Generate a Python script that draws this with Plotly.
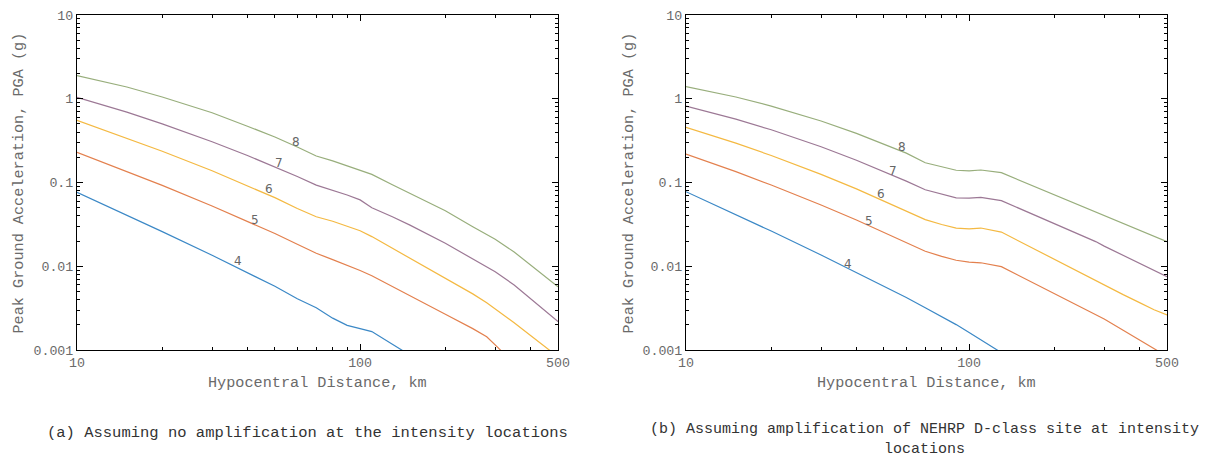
import plotly.graph_objects as go
from plotly.subplots import make_subplots
import math

# ---------------- data ----------------
distance_km = [10, 15, 20, 30, 40, 50, 60, 70, 80, 90, 100, 110, 130, 150,
               200, 250, 280, 300, 350, 400, 450, 500]
magnitudes = ["4", "5", "6", "7", "8"]

# (a) no amplification
pga_a_m4 = [0.0763, 0.0409, 0.0259, 0.0135, 0.00838, 0.00576, 0.0041, 0.0032, 0.0024, 0.00197,
            0.0018, 0.00166, 0.00117, 0.00087, None, None, None, None, None, None, None, None]
pga_a_m5 = [0.229, 0.136, 0.0925, 0.0524, 0.0345, 0.0246, 0.0183, 0.0143, 0.0120, 0.0103,
            0.0089, 0.0077, 0.0057, 0.00443, 0.00267, 0.0018, 0.00144, 0.00115, 0.00069, None, None, None]
pga_a_m6 = [0.552, 0.340, 0.236, 0.138, 0.0917, 0.0659, 0.049, 0.039, 0.0345, 0.030,
            0.0265, 0.0226, 0.0164, 0.01245, 0.00717, 0.00468, 0.00367, 0.00311, 0.00212, 0.00149, 0.00109, 0.00083]
pga_a_m7 = [1.04, 0.691, 0.501, 0.307, 0.210, 0.1536, 0.118, 0.093, 0.081, 0.071,
            0.062, 0.050, 0.039, 0.031, 0.0188, 0.0123, 0.0099, 0.0086, 0.00598, 0.00412, 0.00294, 0.00218]
pga_a_m8 = [1.89, 1.38, 1.05, 0.68, 0.47, 0.35, 0.265, 0.207, 0.181, 0.158,
            0.141, 0.125, 0.0942, 0.0739, 0.046, 0.0297, 0.024, 0.021, 0.0148, 0.0104, 0.0075, 0.0057]

# (b) NEHRP D-class amplification
pga_b_m4 = [0.0777, 0.0416, 0.0263, 0.01365, 0.00846, 0.00578, 0.00423, 0.0032, 0.00251, 0.00201,
            0.00162, 0.00133, 0.00093, None, None, None, None, None, None, None, None, None]
pga_b_m5 = [0.219, 0.1347, 0.0933, 0.0539, 0.0357, 0.0254, 0.0193, 0.0151, 0.0131, 0.0118,
            0.0112, 0.0110, 0.00989, 0.00774, 0.00472, 0.00321, 0.00264, 0.00234, 0.00172, 0.00132, 0.00104, 0.00084]
pga_b_m6 = [0.456, 0.295, 0.210, 0.125, 0.0839, 0.0604, 0.0458, 0.036, 0.0315, 0.0285,
            0.028, 0.0286, 0.0256, 0.0199, 0.012, 0.0081, 0.00664, 0.00591, 0.00458, 0.00368, 0.00302, 0.00262]
pga_b_m7 = [0.819, 0.571, 0.426, 0.267, 0.1845, 0.1352, 0.1038, 0.082, 0.072, 0.0655,
            0.065, 0.0665, 0.0607, 0.0492, 0.0322, 0.0232, 0.0197, 0.0174, 0.0135, 0.0108, 0.0089, 0.0075]
pga_b_m8 = [1.394, 1.049, 0.818, 0.542, 0.3865, 0.2887, 0.224, 0.172, 0.153, 0.140,
            0.138, 0.141, 0.131, 0.107, 0.0714, 0.0522, 0.0444, 0.0404, 0.0324, 0.0268, 0.0227, 0.0196]

# contour-label anchor points (distance, PGA)
label_a_d = [37.1, 42.5, 47.7, 51.8, 59.3]
label_a_v = [0.0116, 0.0357, 0.0836, 0.169, 0.307]
label_b_d = [37.4, 44.4, 48.7, 53.7, 58.1]
label_b_v = [0.0106, 0.0347, 0.0723, 0.138, 0.263]

x_tickvals = [10, 100, 500]
x_ticktext = ["10", "100", "500"]
x_minor = [20, 30, 40, 50, 60, 70, 80, 90, 200, 300, 400]
y_tickvals = [10, 1, 0.1, 0.01, 0.001]
y_ticktext = ["10", "1", "0.1", "0.01", "0.001"]
y_minor = [m * 10 ** k for k in range(-3, 1) for m in range(2, 10)]

caption_a = "(a) Assuming no amplification at the intensity locations"
caption_b = "(b) Assuming amplification of NEHRP D-class site at intensity<br>locations"
x_title = "Hypocentral Distance, km"
y_title = "Peak Ground Acceleration, PGA (g)"

# ---------------- styles ----------------
colors = ["#3b88c6", "#e3804e", "#f4b942", "#9c7895", "#98ae7c"]
PAGE_W, PAGE_H = 1215, 458
OFF = 8                      # default body margin of the html page
W, H = PAGE_W - OFF, PAGE_H - OFF
FONT = "Liberation Mono, Courier New, monospace"
GRAY = "#6a6a6a"


def fx(px):
    return (px - OFF) / W


def fy(py):
    return 1 - (py - OFF) / H


fig = make_subplots(rows=1, cols=2, horizontal_spacing=0.1)

series_a = [pga_a_m4, pga_a_m5, pga_a_m6, pga_a_m7, pga_a_m8]
series_b = [pga_b_m4, pga_b_m5, pga_b_m6, pga_b_m7, pga_b_m8]
for col, series in ((1, series_a), (2, series_b)):
    for mag, vals, c in zip(magnitudes, series, colors):
        fig.add_trace(go.Scatter(x=distance_km, y=vals, mode="lines", name="M" + mag,
                                 line=dict(color=c, width=1.2), connectgaps=False,
                                 showlegend=False, hoverinfo="x+y"), row=1, col=col)

# plot-area geometry in page pixels
px_left_a, px_right_a = 77, 558
px_left_b, px_right_b = 686, 1167
px_top, px_bottom = 15, 350

axis_common = dict(type="log", showline=True, linecolor="black", linewidth=1,
                   mirror="allticks", ticks="inside", tickcolor="black",
                   showgrid=False, zeroline=False, automargin=False,
                   tickfont=dict(family=FONT, size=13.3, color=GRAY))
for i, (l, r) in enumerate(((px_left_a, px_right_a), (px_left_b, px_right_b)), start=1):
    xa = "xaxis" if i == 1 else "xaxis2"
    ya = "yaxis" if i == 1 else "yaxis2"
    fig.layout[xa].update(domain=[fx(l), fx(r)], range=[1, math.log10(500)],
                          tickmode="array", tickvals=x_tickvals, ticktext=x_ticktext,
                          ticklen=6, tickwidth=1,
                          minor=dict(tickmode="array", tickvals=x_minor, ticks="inside",
                                     ticklen=3, tickcolor="black", tickwidth=1),
                          **axis_common)
    fig.layout[ya].update(domain=[fy(px_bottom), fy(px_top)], range=[-3, 1],
                          tickmode="array", tickvals=y_tickvals, ticktext=y_ticktext,
                          ticklen=6, tickwidth=1,
                          minor=dict(tickmode="array", tickvals=y_minor, ticks="inside",
                                     ticklen=3, tickcolor="black", tickwidth=1),
                          **axis_common)

annotations = []
# contour labels
for (xref, yref, ds, vs) in (("x", "y", label_a_d, label_a_v), ("x2", "y2", label_b_d, label_b_v)):
    for mag, d, v in zip(magnitudes, ds, vs):
        annotations.append(dict(x=math.log10(d), y=math.log10(v), xref=xref, yref=yref,
                                text=mag, showarrow=False,
                                font=dict(family="DejaVu Sans, sans-serif", size=12, color="#666666")))
# axis titles
for cx in ((px_left_a + px_right_a) / 2, (px_left_b + px_right_b) / 2):
    annotations.append(dict(x=fx(cx), y=fy(383), xref="paper", yref="paper",
                            text=x_title, showarrow=False, xanchor="center", yanchor="middle",
                            font=dict(family=FONT, size=15.2, color=GRAY)))
for cx in (18, 628):
    annotations.append(dict(x=fx(cx), y=fy((px_top + px_bottom) / 2 + 1), xref="paper", yref="paper",
                            text=y_title, showarrow=False, textangle=-90,
                            xanchor="center", yanchor="middle",
                            font=dict(family=FONT, size=15.2, color=GRAY)))
# captions
annotations.append(dict(x=fx(307), y=fy(433), xref="paper", yref="paper", text=caption_a,
                        showarrow=False, xanchor="center", yanchor="middle",
                        font=dict(family=FONT, size=15.5, color="#333333")))
annotations.append(dict(x=fx(924), y=fy(439.5), xref="paper", yref="paper", text=caption_b,
                        showarrow=False, xanchor="center", yanchor="middle", align="center",
                        font=dict(family=FONT, size=15, color="#333333")))

fig.update_layout(width=W, height=H, margin=dict(l=0, r=0, t=0, b=0, autoexpand=False),
                  paper_bgcolor="white", plot_bgcolor="white",
                  showlegend=False, annotations=annotations)

fig.write_html("out.html")
